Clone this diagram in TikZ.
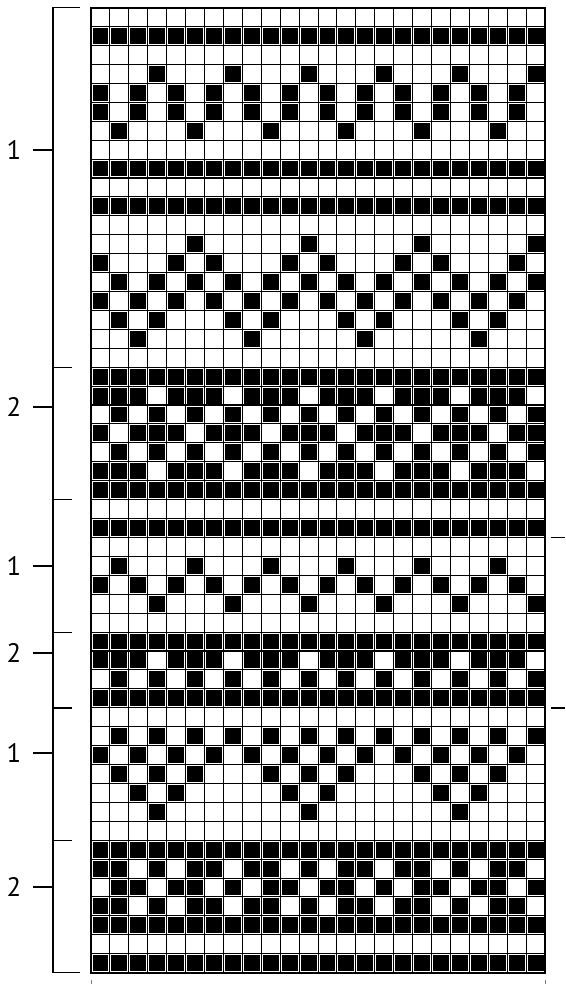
\documentclass[tikz,border=0pt]{standalone}
\usepackage{fontspec}
\setmainfont{PT Sans}
\begin{document}
\begin{tikzpicture}[x=0.25mm, y=-0.25mm, font=\fontsize{19}{22}\selectfont,
		cell/.style={fill=black},
		gridline/.style={line width=0.75pt},
		bracket/.style={line width=0.9pt}]
	\useasboundingbox (0,0) rectangle (565,984);
	\def\cs{18.92}
	% filled stitches, row by row
	\foreach \r/\cols in {1/{0,...,23}, 3/{3,7,...,23}, 4/{0,2,...,22}, 5/{0,2,...,22},
		6/{1,5,...,21}, 8/{0,...,23}, 10/{0,...,23}, 12/{5,11,17,23},
		13/{0,4,6,10,12,16,18,22}, 14/{1,3,...,23}, 15/{0,2,...,22},
		16/{1,3,7,9,13,15,19,21}, 17/{2,8,14,20}, 19/{0,...,23},
		20/{0,1,2,4,5,6,8,9,10,12,13,14,16,17,18,20,21,22}, 21/{1,3,...,23},
		22/{0,2,3,4,6,7,8,10,11,12,14,15,16,18,19,20,22,23}, 23/{1,3,...,23},
		24/{0,1,2,4,5,6,8,9,10,12,13,14,16,17,18,20,21,22}, 25/{0,...,23},
		27/{0,...,23}, 29/{1,5,...,21}, 30/{0,2,...,22}, 31/{3,7,...,23},
		33/{0,...,23}, 34/{0,1,2,4,5,6,8,9,10,12,13,14,16,17,18,20,21,22},
		35/{1,3,...,23}, 36/{0,...,23}, 38/{1,3,...,23}, 39/{0,2,...,22},
		40/{1,3,5,9,11,13,17,19,21}, 41/{2,4,10,12,18,20}, 42/{3,11,19},
		44/{0,...,23}, 45/{0,1,3,5,6,8,9,11,13,14,16,17,19,21,22},
		46/{1,2,4,5,7,9,10,12,13,15,17,18,20,21,23},
		47/{0,1,3,5,6,8,9,11,13,14,16,17,19,21,22}, 48/{0,...,23}, 50/{0,...,23}}
		\foreach \c in \cols
			\fill[cell] ({91+\c*\cs+1.5},{7.7+\r*\cs+1.5}) rectangle ++({\cs-3},{\cs-3});
	% grid
	\foreach \i in {1,...,23}
		\draw[gridline] ({91+\i*\cs},7.7) -- ({91+\i*\cs},972.8);
	\foreach \i in {1,...,50}
		\draw[gridline] (91,{7.7+\i*\cs}) -- (545,{7.7+\i*\cs});
	\draw[line width=1.5pt] (91,7.7) rectangle (545,972.8);
	% bracket on the left
	\coordinate (btop) at (53,7.7);
	\coordinate (bbot) at (53,972.8);
	\draw[bracket] ([xshift=19]btop) -- (btop) -- (bbot) -- ([xshift=19]bbot);
	\foreach \y in {367.2,499.7,632.2,707.9,840.4}
		\draw[bracket] (53,\y) -- (72,\y);
	\foreach \y/\t [count=\i] in {150/1, 407/2, 566/1, 653/2, 753/1, 887/2}{
		\node (lab\i) at (14,\y) {\t};
		\coordinate (tk\i) at (53,\y);
		\draw[bracket] (tk\i) -- ++(-20,0);
	}
	% marks on the right
	\foreach \y in {537.5,707.9}
		\draw[bracket] (551,\y) -- (565,\y);
	\foreach \x in {91,545}
		\draw[line width=0.5pt, gray] (\x,980) -- (\x,986);
\end{tikzpicture}
\end{document}
